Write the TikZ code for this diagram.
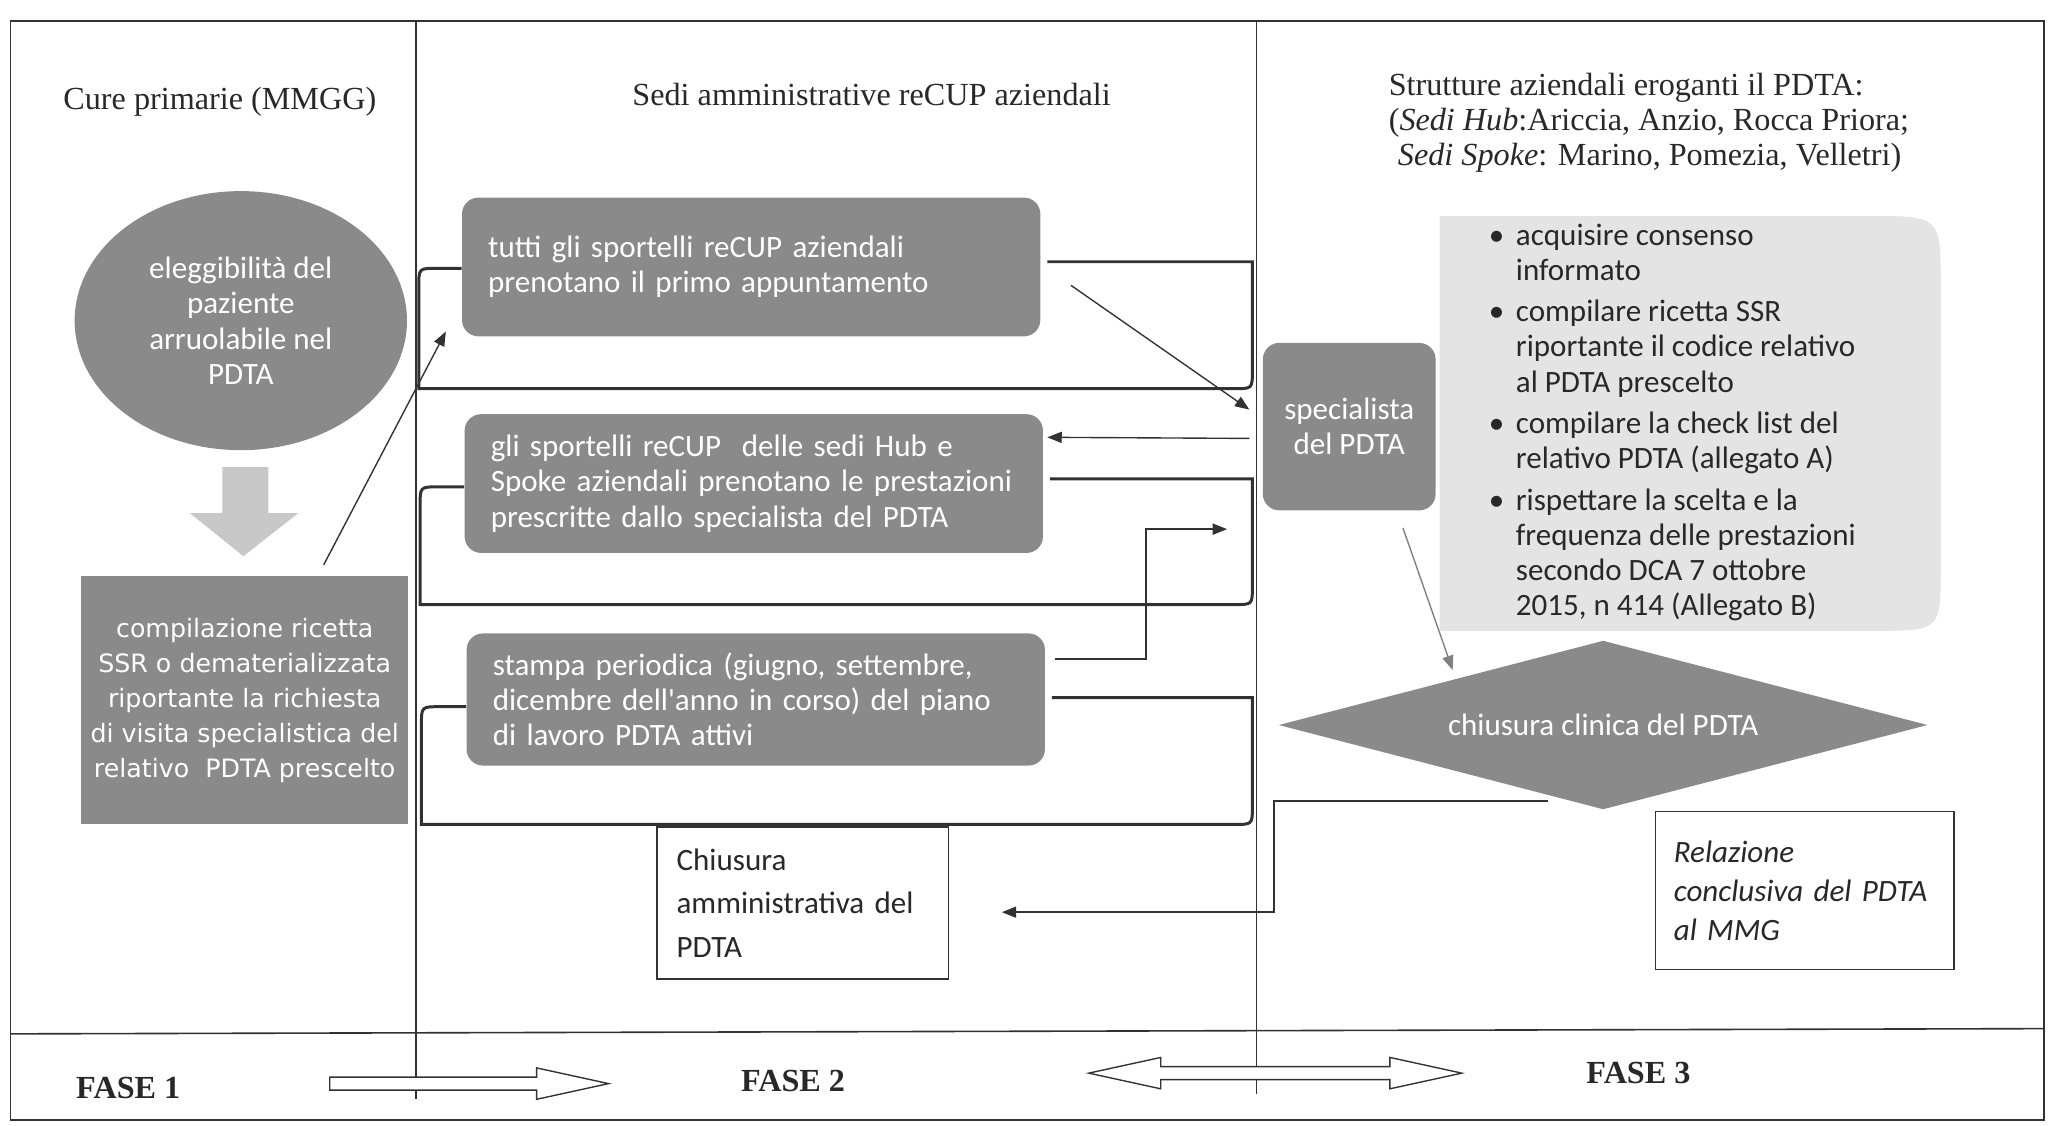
\documentclass[tikz,border=0pt]{standalone}
\usepackage{fontspec}
\setmainfont{Liberation Serif}
\newfontfamily\calfont{Carlito}
\newfontfamily\dvfont{DejaVu Sans}
\usetikzlibrary{shapes.geometric,arrows.meta,calc}
\definecolor{boxgray}{RGB}{138,138,138}
\definecolor{lightbox}{RGB}{228,228,228}
\definecolor{blockgray}{RGB}{200,200,200}
\definecolor{linec}{RGB}{50,50,50}
\definecolor{textdark}{RGB}{40,40,40}
\begin{document}
\begin{tikzpicture}[x=0.02cm,y=-0.02cm,
  frameline/.style={draw=linec, line width=0.7pt},
  bracket/.style={draw=linec, line width=1.3pt},
  conn/.style={draw=linec, line width=0.6pt, -{Triangle[length=0.22cm,width=0.17cm]}},
  lightconn/.style={draw=gray, line width=0.6pt, -{Triangle[length=0.22cm,width=0.17cm]}},
  outl/.style={draw=linec, line width=0.6pt, fill=white},
  calsize/.style={font=\calfont\fontsize{13.5}{15.3}\selectfont},
  graybox/.style={fill=boxgray, rounded corners=0.25cm, text=white, calsize, align=left,
     inner xsep=0.4cm, inner ysep=0pt, text width=8.04cm, minimum height=2.12cm},
  header/.style={font=\fontsize{14}{15.3}\selectfont, text=textdark},
  fase/.style={font=\bfseries\fontsize{14}{16}\selectfont, text=textdark},
  whitebox/.style={draw=linec, line width=0.6pt, fill=white, align=left, text=textdark}
]
\useasboundingbox (0,0) rectangle (1568,860);

% outer frame and lanes
\draw[frameline] (8,16) -- (1562,16) -- (1562,856) -- (8,856) -- cycle;
\draw[frameline] (8,790) -- (1562,786);
\draw[frameline] (318,16) -- (318,840);
\draw[frameline] (960,16) -- (960,836);

% headers
\node[header] (h1) at (168,78) {Cure primarie (MMGG)};
\node[header] (h2) at (666,72) {Sedi amministrative reCUP aziendali};
\node[header, anchor=west, align=left] (h3) at (1055,94) {Strutture aziendali eroganti il PDTA:\\(\textit{Sedi Hub}:Ariccia, Anzio, Rocca Priora;\\\hspace*{4pt}\textit{Sedi Spoke}: Marino, Pomezia, Velletri)};

% column 1
\node[ellipse, fill=boxgray, minimum width=5.08cm, minimum height=3.96cm, inner sep=0pt,
  text=white, align=center, calsize] (ell) at (184,245) {eleggibilità del\\paziente\\arruolabile nel\\PDTA};
\fill[blockgray] (170,357) -- (205,357) -- (205,392) -- (228,392) -- (186,425) -- (145,392) -- (170,392) -- cycle;
\node[fill=boxgray, minimum width=5cm, minimum height=3.8cm, inner sep=0pt, text=white, align=center,
  font=\dvfont\fontsize{11}{15.2}\selectfont] (ric) at (187,535)
  {compilazione ricetta\\SSR o dematerializzata\\riportante la richiesta\\di visita specialistica del\\relativo\ \ PDTA prescelto};

% column 2 boxes
\node[graybox] (b1) at (574,204) {tutti gli sportelli reCUP aziendali\\prenotano il primo appuntamento};
\node[graybox] (b2) at (576,369.5) {gli sportelli reCUP\ \ delle sedi Hub e\\Spoke aziendali prenotano le prestazioni\\prescritte dallo specialista del PDTA};
\node[graybox, minimum height=2.02cm] (b3) at (577.5,534.5) {stampa periodica (giugno, settembre,\\dicembre dell'anno in corso) del piano\\di lavoro PDTA attivi};

% brackets around column 2 boxes
\draw[bracket] (b1.west |- 0,205) -- (334,205) .. controls (320,205) .. (320,219) -- (320,297) -- (943,297) .. controls (957,297) .. (957,283) -- (957,200) -- ($(b1.east)+(5,-4)$);
\draw[bracket] (b2.west |- 0,372) -- (335,372) .. controls (321,372) .. (321,386) -- (321,462) -- (943,462) .. controls (957,462) .. (957,448) -- (957,366) -- ($(b2.east)+(5,-3.5)$);
\draw[bracket] (b3.west |- 0,540) -- (336,540) .. controls (322,540) .. (322,554) -- (322,630) -- (943,630) .. controls (957,630) .. (957,616) -- (957,533) -- ($(b3.east)+(5,-1.5)$);

\node[whitebox, minimum width=4.46cm, minimum height=2.32cm, inner xsep=0.3cm, text width=3.86cm,
  font=\calfont\fontsize{13.5}{19}\selectfont] (chi) at (613.5,690) {Chiusura\\amministrativa del\\PDTA};

% column 3
\node[fill=boxgray, rounded corners=0.25cm, minimum width=2.64cm, minimum height=2.56cm, inner sep=0pt,
  text=white, align=center, calsize] (spec) at (1031,326) {specialista\\del PDTA};
\fill[lightbox] (1100,165) -- (1428,165) .. controls (1483,165) .. (1483,220) -- (1483,432) .. controls (1483,482) .. (1433,482) -- (1100,482) -- cycle;
\node[anchor=west, align=left, inner sep=0pt, text=textdark, calsize] (lst) at (1158,323)
  {\llap{•\hspace{5pt}}acquisire consenso\\informato\\[2.5pt]
   \llap{•\hspace{5pt}}compilare ricetta SSR\\riportante il codice relativo\\al PDTA prescelto\\[2.5pt]
   \llap{•\hspace{5pt}}compilare la check list del\\relativo PDTA (allegato A)\\[3pt]
   \llap{•\hspace{5pt}}rispettare la scelta e la\\frequenza delle prestazioni\\secondo DCA 7 ottobre\\2015, n 414 (Allegato B)};
\node[diamond, aspect=3.85, fill=boxgray, minimum width=9.92cm, minimum height=2.58cm, inner sep=0pt,
  text=white, calsize] (dia) at (1225,554) {chiusura clinica del PDTA};
\node[whitebox, minimum width=4.56cm, minimum height=2.42cm, inner xsep=0.28cm, text width=4cm,
  font=\calfont\itshape\fontsize{13.5}{17}\selectfont] (rel) at (1379,680.5) {Relazione\\conclusiva del PDTA\\al MMG\\[4pt]};

% connectors
\draw[conn] ($(ric.north east)+(-65,-8)$) -- ($(b1.south west)+(-12,-4)$);
\draw[conn] ($(b1.east)+(23,14)$) -- ($(spec.west)+(-10,-13)$);
\draw[conn] ($(spec.west)+(-10,9)$) -- ($(b2.north east)+(3,18)$);
\draw[conn] ($(b3.east)+(7,-31)$) -- ++(70,0) |- ($(spec.south west)+(-27,14)$);
\draw[lightconn] ($(spec.south)+(41,13)$) -- ($(dia.center)+(-115,-42)$);
\draw[conn] ($(dia.center)+(-42,58)$) -| ($(chi.east)+(248,7)$) -- ($(chi.east)+(40,7)$);

% phase band
\node[fase] (f1) at (98,831) {FASE 1};
\node[fase] (f2) at (606,826) {FASE 2};
\node[fase] (f3) at (1252,820) {FASE 3};
\draw[outl] (252,823) -- (410,823) -- (410,816) -- (465,828) -- (410,840) -- (410,833) -- (252,833) -- cycle;
\draw[outl] (832,820) -- (887,808) -- (887,815) -- (1062,815) -- (1062,808) -- (1117,820) -- (1062,832) -- (1062,825) -- (887,825) -- (887,832) -- cycle;
\end{tikzpicture}
\end{document}
